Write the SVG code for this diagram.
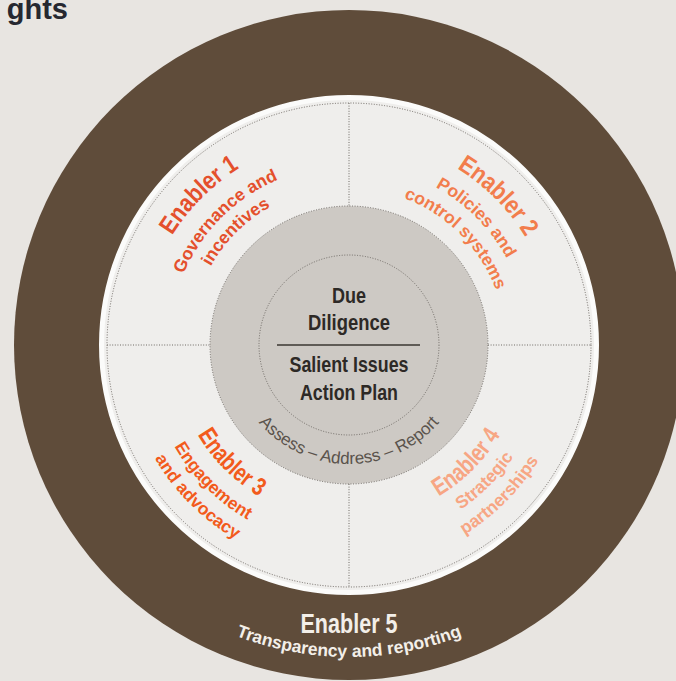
<svg xmlns="http://www.w3.org/2000/svg" width="676" height="681" viewBox="0 0 676 681">
  <style>
    .title { font-family: "Liberation Sans", Arial, sans-serif; font-weight: bold; }
    .sub { font-family: "Liberation Sans", Arial, sans-serif; font-weight: bold; font-size: 17.5px; }
    .dots { fill: none; stroke: #6f6a65; stroke-width: 1; stroke-dasharray: 1 1.6; }
    .core { font-family: "Liberation Sans", Arial, sans-serif; font-weight: bold; font-size: 22px; fill: #2d2926; text-anchor: middle; }
    .e1 { fill: #e4502c; }
    .e2 { fill: #f27d4c; }
    .e3 { fill: #f25b1c; }
    .e4 { fill: #f7a684; }
  </style>
  <defs>
    <!-- baseline arcs around the centre (349,345) -->
    <path id="a1t" d="M148.1,398.8 A208,208 0 0 1 402.8,144.1"/>
    <path id="a1a" d="M175.1,391.6 A180,180 0 0 1 395.6,171.1"/>
    <path id="a1b" d="M195.4,386.2 A159,159 0 0 1 390.2,191.4"/>
    <path id="a2t" d="M295.4,145.1 A207,207 0 0 1 548.9,398.6"/>
    <path id="a2a" d="M302.4,171.1 A180,180 0 0 1 522.9,391.6"/>
    <path id="a2b" d="M308.4,193.4 A157,157 0 0 1 500.6,385.6"/>
    <path id="a3t" d="M179.0,299.5 A176,176 0 0 0 394.5,515.0"/>
    <path id="a3a" d="M153.9,292.7 A202,202 0 0 0 401.3,540.1"/>
    <path id="a3b" d="M131.7,286.8 A225,225 0 0 0 407.2,562.3"/>
    <path id="a4t" d="M303.5,515.0 A176,176 0 0 0 519.0,299.5"/>
    <path id="a4a" d="M297.5,537.2 A199,199 0 0 0 541.2,293.5"/>
    <path id="a4b" d="M291.5,559.4 A222,222 0 0 0 563.4,287.5"/>
    <path id="aCore" d="M230,345 A119,119 0 0 0 468,345"/>
    <path id="a5" d="M78.8,501 A312,312 0 0 0 619.2,501"/>
  </defs>

  <!-- page -->
  <rect width="676" height="681" fill="#e8e5e1"/>
  <text x="68" y="19" text-anchor="end" font-family="Liberation Sans, Arial, sans-serif" font-weight="bold" font-size="29" fill="#262830">ghts</text>

  <!-- outer ring: enabler 5 -->
  <g id="enabler5">
    <circle cx="349" cy="345" r="335" fill="#5f4c3a"/>
    <text class="title" x="349" y="633" font-size="27" fill="#f3efe9" text-anchor="middle" textLength="97" lengthAdjust="spacingAndGlyphs">Enabler 5</text>
    <text class="sub" font-size="17" fill="#f3efe9"><textPath href="#a5" startOffset="50%" text-anchor="middle">Transparency and reporting</textPath></text>
  </g>

  <!-- light ring with quadrants -->
  <g id="ring">
    <circle cx="349" cy="345" r="247.5" fill="#efeeec" stroke="#fbfbfa" stroke-width="5"/>
    <circle class="dots" cx="349" cy="345" r="242"/>
  </g>

  <!-- quadrant dividers -->
  <g id="connectors">
    <line class="dots" x1="349" y1="103" x2="349" y2="206"/>
    <line class="dots" x1="349" y1="484" x2="349" y2="587"/>
    <line class="dots" x1="107" y1="345" x2="210" y2="345"/>
    <line class="dots" x1="488" y1="345" x2="591" y2="345"/>
  </g>

  <g id="enabler1">
    <text class="title e1" font-size="25"><textPath href="#a1t" startOffset="50%" text-anchor="middle" textLength="96" lengthAdjust="spacingAndGlyphs">Enabler 1</textPath></text>
    <text class="sub e1"><textPath href="#a1a" startOffset="50%" text-anchor="middle">Governance and</textPath></text>
    <text class="sub e1"><textPath href="#a1b" startOffset="50%" text-anchor="middle">incentives</textPath></text>
  </g>

  <g id="enabler2">
    <text class="title e2" font-size="25"><textPath href="#a2t" startOffset="50%" text-anchor="middle" textLength="98" lengthAdjust="spacingAndGlyphs">Enabler 2</textPath></text>
    <text class="sub e2"><textPath href="#a2a" startOffset="50%" text-anchor="middle">Policies and</textPath></text>
    <text class="sub e2"><textPath href="#a2b" startOffset="50%" text-anchor="middle">control systems</textPath></text>
  </g>

  <g id="enabler3">
    <text class="title e3" font-size="25"><textPath href="#a3t" startOffset="50%" text-anchor="middle" textLength="88" lengthAdjust="spacingAndGlyphs">Enabler 3</textPath></text>
    <text class="sub e3"><textPath href="#a3a" startOffset="50%" text-anchor="middle">Engagement</textPath></text>
    <text class="sub e3"><textPath href="#a3b" startOffset="50%" text-anchor="middle">and advocacy</textPath></text>
  </g>

  <g id="enabler4">
    <text class="title e4" font-size="25"><textPath href="#a4t" startOffset="50%" text-anchor="middle" textLength="88" lengthAdjust="spacingAndGlyphs">Enabler 4</textPath></text>
    <text class="sub e4"><textPath href="#a4a" startOffset="50%" text-anchor="middle">Strategic</textPath></text>
    <text class="sub e4"><textPath href="#a4b" startOffset="50%" text-anchor="middle">partnerships</textPath></text>
  </g>

  <!-- core: due diligence -->
  <g id="core">
    <circle cx="349" cy="345" r="139" fill="#cdc9c4"/>
    <circle class="dots" cx="349" cy="345" r="139"/>
    <circle class="dots" cx="349" cy="345" r="90"/>
    <text class="core" x="349" y="303" textLength="34" lengthAdjust="spacingAndGlyphs">Due</text>
    <text class="core" x="349" y="330" textLength="82" lengthAdjust="spacingAndGlyphs">Diligence</text>
    <line x1="277" y1="345" x2="420" y2="345" stroke="#3a3632" stroke-width="1.6"/>
    <text class="core" x="349" y="372" textLength="119" lengthAdjust="spacingAndGlyphs">Salient Issues</text>
    <text class="core" x="349" y="400" textLength="98" lengthAdjust="spacingAndGlyphs">Action Plan</text>
    <text font-family="Liberation Sans, Arial, sans-serif" font-size="17" fill="#5a534c"><textPath href="#aCore" startOffset="50%" text-anchor="middle">Assess – Address – Report</textPath></text>
  </g>
</svg>
